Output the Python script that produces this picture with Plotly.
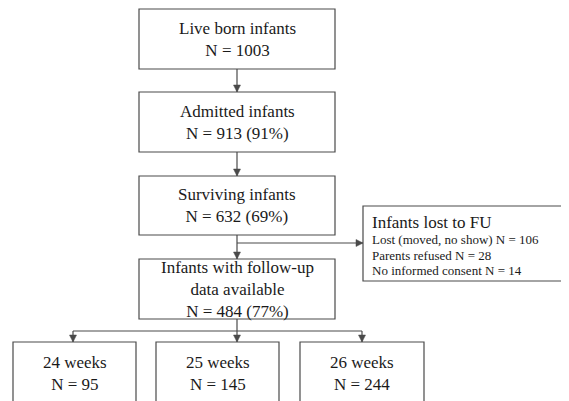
import plotly.graph_objects as go

# ---- content ----
main_labels = [
    "Live born infants<br>N = 1003",
    "Admitted infants<br>N = 913 (91%)",
    "Surviving infants<br>N = 632 (69%)",
    "Infants with follow-up<br>data available<br>N = 484 (77%)",
]
lost_title = "Infants lost to FU"
lost_lines = [
    "Lost (moved, no show) N = 106",
    "Parents refused N = 28",
    "No informed consent N = 14",
]
week_labels = ["24 weeks", "25 weeks", "26 weeks"]
week_counts = [95, 145, 244]

# ---- geometry (pixels, y downward) ----
main_x = (139, 335)
main_y = [(9, 69), (92, 152), (176, 235), (259, 319)]
lost_box = (363, 206, 575, 281)
week_x = [(13, 136), (156, 279), (300, 424)]
week_y = (342, 410)
split_y = 243
branch_y = 331

LINE = "#4a4a4a"
TEXT = "#1a1a1a"
FONT = "Liberation Serif"

fig = go.Figure()
shapes = []
annotations = []


def rect(x0, y0, x1, y1):
    shapes.append(dict(type="rect", x0=x0, y0=y0, x1=x1, y1=y1, xref="x", yref="y",
                       line=dict(color=LINE, width=1.2), fillcolor="white", layer="above"))


def line(x0, y0, x1, y1):
    shapes.append(dict(type="line", x0=x0, y0=y0, x1=x1, y1=y1, xref="x", yref="y",
                       line=dict(color=LINE, width=1.2)))


def head_down(x, y):
    shapes.append(dict(type="path", path=f"M {x-3.5},{y-7} L {x+3.5},{y-7} L {x},{y} Z",
                       xref="x", yref="y", fillcolor=LINE, line=dict(color=LINE, width=0.5)))


def head_right(x, y):
    shapes.append(dict(type="path", path=f"M {x-7},{y-3.5} L {x-7},{y+3.5} L {x},{y} Z",
                       xref="x", yref="y", fillcolor=LINE, line=dict(color=LINE, width=0.5)))


cx = (main_x[0] + main_x[1]) / 2
for i, (y0, y1) in enumerate(main_y):
    rect(main_x[0], y0, main_x[1], y1)
    annotations.append(dict(x=cx, y=(y0 + y1) / 2, xref="x", yref="y", text=main_labels[i],
                            showarrow=False, font=dict(family=FONT, size=17, color=TEXT),
                            align="center"))
    if i < len(main_y) - 1:
        line(cx, y1, cx, main_y[i + 1][0])
        head_down(cx, main_y[i + 1][0])

# side branch to lost box
line(cx, split_y, lost_box[0], split_y)
head_right(lost_box[0], split_y)
rect(*lost_box)
annotations.append(dict(x=370, y=222, xref="x", yref="y", text=lost_title, showarrow=False,
                        xanchor="left", font=dict(family=FONT, size=17, color=TEXT)))
for j, t in enumerate(lost_lines):
    annotations.append(dict(x=370, y=239.5 + j * 15.5, xref="x", yref="y", text=t, showarrow=False,
                            xanchor="left", font=dict(family=FONT, size=13, color=TEXT)))

# branch to week boxes
last_bottom = main_y[-1][1]
line(cx, last_bottom, cx, branch_y)
arrow_x = [73, cx, 362]
line(arrow_x[0], branch_y, arrow_x[-1], branch_y)
for k, (a, b) in enumerate(week_x):
    line(arrow_x[k], branch_y, arrow_x[k], week_y[0])
    head_down(arrow_x[k], week_y[0])
    rect(a, week_y[0], b, week_y[1])
    annotations.append(dict(x=(a + b) / 2, y=373, xref="x", yref="y",
                            text=f"{week_labels[k]}<br>N = {week_counts[k]}", showarrow=False,
                            font=dict(family=FONT, size=17, color=TEXT)))

# page body has an 8px margin: map data coords to window pixels
OFF = 8
fig.update_layout(
    width=569 - OFF, height=401 - OFF,
    margin=dict(l=0, r=0, t=0, b=0),
    paper_bgcolor="white", plot_bgcolor="white",
    xaxis=dict(range=[OFF, 569], visible=False, fixedrange=True),
    yaxis=dict(range=[401, OFF], visible=False, fixedrange=True),
    shapes=shapes, annotations=annotations, showlegend=False,
)
fig.write_html("out.html", config={"displayModeBar": False})
